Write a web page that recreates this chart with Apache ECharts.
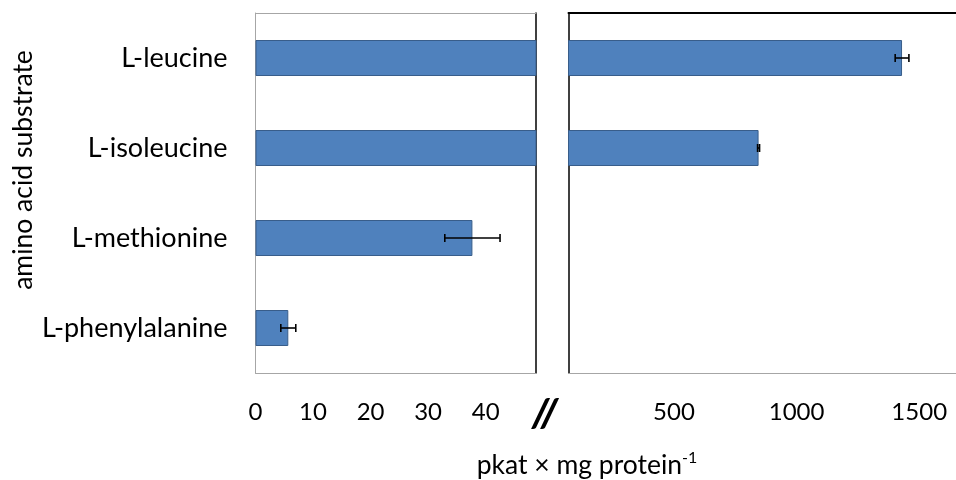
<!DOCTYPE html>
<html>
<head>
<meta charset="utf-8">
<script src="https://cdn.jsdelivr.net/npm/echarts@6/dist/echarts.min.js"></script>
<style>
  html, body { margin: 0; padding: 0; background: #fff; }
  #chart { width: 956px; height: 480px; }
</style>
</head>
<body>
<div id="chart"></div>
<script>
// Substrates, listed top to bottom
const substrates = ['L-leucine', 'L-isoleucine', 'L-methionine', 'L-phenylalanine'];
// Mean activity (pkat × mg protein⁻¹) and its standard error
const activity = [1430, 845, 37.7, 5.7];
const activityErr = [28, 4, 4.8, 1.3];
// Tick labels on the two segments of the broken value axis
const lowTicks = [0, 10, 20, 30, 40];
const highTicks = [500, 1000, 1500];

const FONT = 'Lato';
const barFill = '#4F81BD';
const barEdge = '#385D8A';
const frameGray = '#A6A6A6';

const chart = echarts.init(document.getElementById('chart'), null, { renderer: 'canvas' });

function errorBarItem(params, api) {
  const cat = api.value(0);
  const v = api.value(1);
  const e = api.value(2);
  const lo = api.coord([v - e, cat]);
  const hi = api.coord([v + e, cat]);
  const cap = 4;
  const style = { stroke: '#000', lineWidth: 1.6 };
  return {
    type: 'group',
    children: [
      { type: 'line', shape: { x1: lo[0], y1: lo[1], x2: hi[0], y2: hi[1] }, style },
      { type: 'line', shape: { x1: lo[0], y1: lo[1] - cap, x2: lo[0], y2: lo[1] + cap }, style },
      { type: 'line', shape: { x1: hi[0], y1: hi[1] - cap, x2: hi[0], y2: hi[1] + cap }, style }
    ]
  };
}

const errData = substrates.map((s, i) => [s, activity[i], activityErr[i]]);

const hiddenCat = (gridIndex, position, lineColor, lineWidth) => ({
  type: 'category', gridIndex, position, inverse: true, data: substrates,
  axisLine: { show: true, onZero: false, lineStyle: { color: lineColor, width: lineWidth } },
  axisTick: { show: false }, axisLabel: { show: false }, splitLine: { show: false }
});
const hiddenVal = (gridIndex, position, min, max, lineColor, lineWidth) => ({
  type: 'value', gridIndex, position, min, max,
  axisLine: { show: true, onZero: false, lineStyle: { color: lineColor, width: lineWidth } },
  axisTick: { show: false }, axisLabel: { show: false }, splitLine: { show: false }
});

const tickLabel = {
  color: '#000', fontSize: 24, fontFamily: FONT, margin: 27,
  formatter: v => String(v)
};

const option = {
  backgroundColor: '#fff',
  animation: false,
  textStyle: { fontFamily: FONT },
  grid: [
    { left: 255.5, top: 13, width: 280.5, height: 360 },
    { left: 568.5, top: 13, width: 388, height: 360 }
  ],
  xAxis: [
    {
      type: 'value', gridIndex: 0, position: 'bottom', min: 0, max: 48.75,
      axisLine: { show: true, onZero: false, lineStyle: { color: frameGray, width: 1 } },
      axisTick: { show: false }, splitLine: { show: false },
      axisLabel: Object.assign({ customValues: lowTicks }, tickLabel)
    },
    hiddenVal(0, 'top', 0, 48.75, frameGray, 1),
    {
      type: 'value', gridIndex: 1, position: 'bottom', min: 70, max: 1650,
      axisLine: { show: true, onZero: false, lineStyle: { color: frameGray, width: 1 } },
      axisTick: { show: false }, splitLine: { show: false },
      axisLabel: Object.assign({ customValues: highTicks }, tickLabel)
    },
    hiddenVal(1, 'top', 70, 1650, '#000', 2)
  ],
  yAxis: [
    {
      type: 'category', gridIndex: 0, position: 'left', inverse: true, data: substrates,
      axisLine: { show: true, onZero: false, lineStyle: { color: frameGray, width: 1 } },
      axisTick: { show: false }, splitLine: { show: false },
      axisLabel: { color: '#000', fontSize: 27, fontFamily: FONT, margin: 28 }
    },
    hiddenCat(0, 'right', '#000', 1.5),
    hiddenCat(1, 'left', '#000', 1.5)
  ],
  series: [
    {
      type: 'bar', xAxisIndex: 0, yAxisIndex: 0, data: activity, barWidth: '40%', clip: true,
      itemStyle: { color: barFill, borderColor: barEdge, borderWidth: 1 }
    },
    {
      type: 'bar', xAxisIndex: 2, yAxisIndex: 2, data: activity, barWidth: '40%', clip: true,
      itemStyle: { color: barFill, borderColor: barEdge, borderWidth: 1 }
    },
    {
      type: 'custom', xAxisIndex: 0, yAxisIndex: 0, data: errData, clip: true, z: 5,
      encode: { x: 1, y: 0 }, renderItem: errorBarItem
    },
    {
      type: 'custom', xAxisIndex: 2, yAxisIndex: 2, data: errData, clip: true, z: 5,
      encode: { x: 1, y: 0 }, renderItem: errorBarItem
    }
  ],
  graphic: [
    {
      type: 'text', x: 545, y: 414,
      style: {
        text: '//', align: 'center', verticalAlign: 'middle',
        fontSize: 40, fontWeight: 900, fontStyle: 'italic', fontFamily: FONT, fill: '#000'
      }
    },
    {
      type: 'text', x: 587, y: 465,
      style: {
        text: '{b|pkat × mg protein}{s|-1}',
        align: 'center', verticalAlign: 'middle',
        rich: {
          b: { fontSize: 26.5, fontFamily: FONT, fill: '#000' },
          s: { fontSize: 16, fontFamily: FONT, fill: '#000', padding: [0, 0, 14, 0] }
        }
      }
    },
    {
      type: 'text', x: 23, y: 170, rotation: Math.PI / 2,
      style: {
        text: 'amino acid substrate', align: 'center', verticalAlign: 'middle',
        fontSize: 26.5, fontFamily: FONT, fill: '#000'
      }
    }
  ]
};

chart.setOption(option);
</script>
</body>
</html>
